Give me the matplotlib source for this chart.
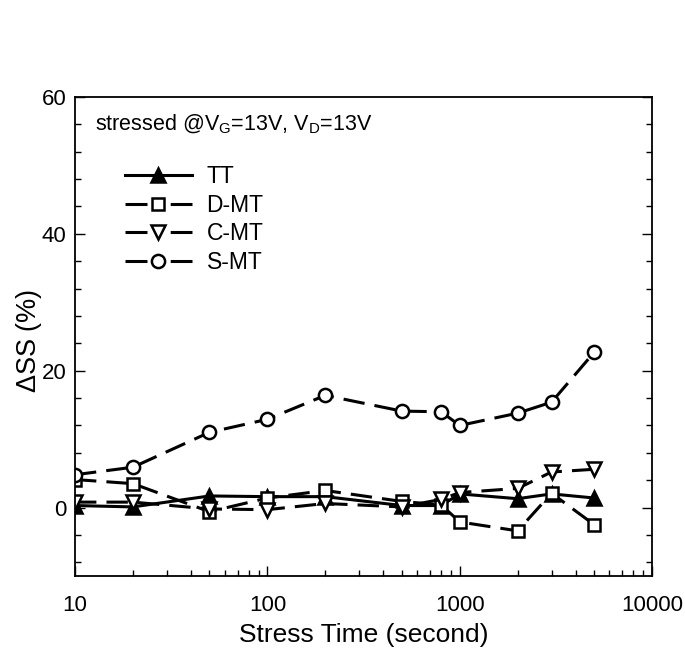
import matplotlib
matplotlib.use("Agg")
import matplotlib.pyplot as plt
from matplotlib.ticker import AutoMinorLocator, LogLocator, NullFormatter, FixedLocator, FixedFormatter
from matplotlib.lines import Line2D

plt.rcParams['font.family'] = ['Liberation Sans', 'DejaVu Sans']
plt.rcParams['mathtext.fontset'] = 'custom'
plt.rcParams['mathtext.rm'] = 'Liberation Sans'
plt.rcParams['mathtext.it'] = 'Liberation Sans'

time = [10, 20, 50, 100, 200, 500, 800, 1000, 2000, 3000, 5000]
tt = [0.3, 0.1, 1.7, 1.6, 1.6, 0.3, 0.3, 2.0, 1.3, 2.0, 1.4]
d_mt = [4.1, 3.5, -0.6, 1.4, 2.5, 0.9, 0.4, -2.1, -3.4, 2.1, -2.5]
c_mt = [0.8, 0.8, -0.2, -0.3, 0.6, 0.1, 1.2, 2.2, 2.8, 5.2, 5.6]
s_mt = [4.8, 5.9, 11.0, 12.9, 16.4, 14.1, 14.0, 12.0, 13.8, 15.4, 22.7]
labels = ["TT", "D-MT", "C-MT", "S-MT"]

fig = plt.figure(figsize=(6.85, 6.5), dpi=100)
ax = fig.add_axes([0.1095, 0.1138, 0.8425, 0.737])

lw = 2.2
ms = 9.5
mew = 1.8
dash = (7, 3.3)
styles = [
    dict(ls='-', marker='^', mfc='black', ms=ms),
    dict(ls='--', marker='s', mfc='white', ms=ms - 0.8),
    dict(ls='--', marker='v', mfc='white', ms=ms),
    dict(ls='--', marker='o', mfc='white', ms=ms),
]
series = [tt, d_mt, c_mt, s_mt]
for vals, st in zip(series, styles):
    kw = dict(color='black', lw=lw, mec='black', mew=mew, **st)
    if st['ls'] == '--':
        kw['dashes'] = dash
    ax.plot(time, vals, **kw)

ax.set_xscale('log')
ax.set_xlim(10, 10000)
ax.set_ylim(-10, 60)
ax.set_yticks([0, 20, 40, 60])
ax.yaxis.set_minor_locator(AutoMinorLocator(5))
ax.xaxis.set_major_locator(FixedLocator([10, 100, 1000, 10000]))
ax.xaxis.set_major_formatter(FixedFormatter(["10", "100", "1000", "10000"]))
ax.xaxis.set_minor_locator(LogLocator(base=10, subs=range(2, 10)))
ax.xaxis.set_minor_formatter(NullFormatter())

ax.tick_params(which='both', direction='in', top=False, right=True, labelsize=16, width=1.0)
ax.tick_params(which='major', length=7)
ax.tick_params(which='minor', length=4)
ax.tick_params(axis='x', which='major', pad=14)
ax.tick_params(axis='y', which='major', pad=6)
for s in ax.spines.values():
    s.set_linewidth(1.3)

ax.set_xlabel("Stress Time (second)", fontsize=19, labelpad=5)
ax.set_ylabel(r"$\Delta$SS (%)", fontsize=19.5)
ax.yaxis.set_label_coords(-0.054, 0.49)

ax.text(0.035, 0.943, r"stressed @V$_\mathrm{G}$=13V, V$_\mathrm{D}$=13V",
        transform=ax.transAxes, fontsize=15.5, va='center', ha='left')

handles = []
for st in styles:
    kw = dict(color='black', lw=lw, mec='black', mew=mew, **st)
    if st['ls'] == '--':
        kw['dashes'] = (7.2, 7.6)
    handles.append(Line2D([], [], **kw))
ax.legend(handles, labels, loc='upper left', bbox_to_anchor=(0.087, 0.857), frameon=False,
          fontsize=16.5, handlelength=2.9, handletextpad=0.65, labelspacing=0.24,
          borderaxespad=0, borderpad=0)

fig.savefig("out.png", dpi=100)
